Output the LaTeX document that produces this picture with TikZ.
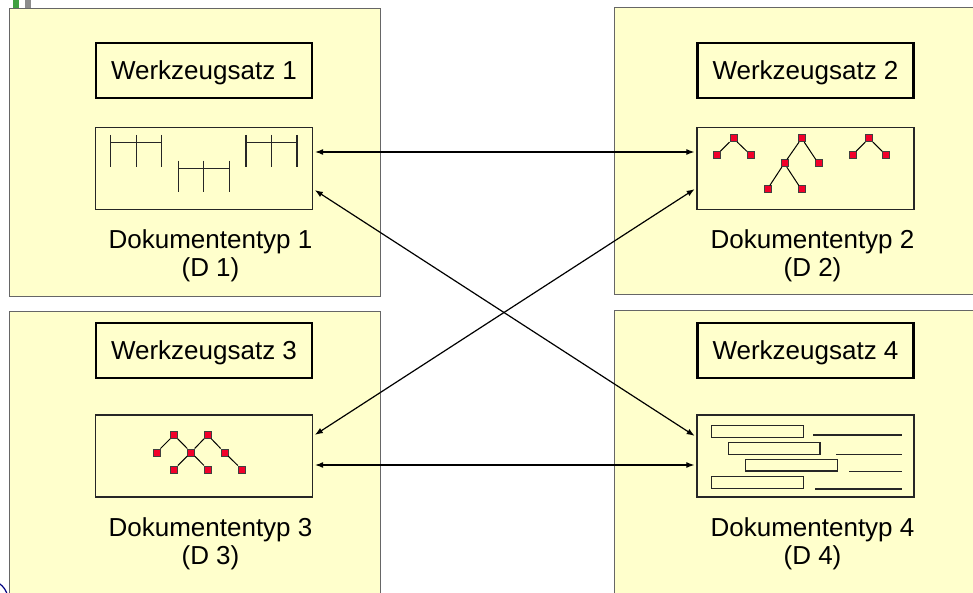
\documentclass[tikz,border=0pt]{standalone}
\usepackage{fontspec}
\setmainfont{Liberation Sans}
\usepackage{tikz}
\usetikzlibrary{positioning,arrows.meta}
\definecolor{paneyellow}{HTML}{FFFFCC}
\definecolor{sqred}{HTML}{F2002A}
\begin{document}
\begin{tikzpicture}
	[x=1pt,y=-1pt,font=\fontsize{26}{28}\selectfont,
	panel/.style={rectangle,draw=black!60,fill=paneyellow,line width=1pt,inner sep=0pt},
	tool/.style={rectangle,draw,line width=2.6pt,fill=paneyellow,minimum width=216pt,minimum height=55pt,inner sep=0pt,text height=18pt,text depth=0pt},
	doc/.style={rectangle,draw=black!85,line width=1.3pt,fill=paneyellow,minimum width=217pt,minimum height=82pt,inner sep=0pt},
	typ/.style={align=center,inner sep=0pt},
	sq/.style={rectangle,draw=black!75,fill=sqred,minimum size=7pt,inner sep=0pt,line width=0.6pt},
	link/.style={{Latex[length=8pt,width=6pt]}-{Latex[length=8pt,width=6pt]},line width=1.2pt,shorten <=2pt,shorten >=2pt}]
	\path[use as bounding box] (0,0) rectangle (973,593);
	\clip (0,0) rectangle (973,593);
	% bits at the edge
	\fill[green!50!black!75] (13.3,0) rectangle (19,8);
	\fill[black!45] (25,0) rectangle (31,8);
	\draw[blue!50!black,line width=1.2pt] (-12,600) circle (20);
	% panels
	\node[panel,minimum width=371pt,minimum height=287pt] (panel1) at (194.5,152.5) {};
	\node[panel,minimum width=376pt,minimum height=286pt] (panel2) at (802,151) {};
	\node[panel,minimum width=371pt,minimum height=299pt] (panel3) at (194.5,460.5) {};
	\node[panel,minimum width=376pt,minimum height=300pt] (panel4) at (802,460) {};
	% tool sets and document types
	\node[tool] (tool1) at (204,70.5) {Werkzeugsatz 1};
	\node[tool] (tool2) at (805.5,70.5) {Werkzeugsatz 2};
	\node[tool] (tool3) at (204,350.5) {Werkzeugsatz 3};
	\node[tool] (tool4) at (805.5,350.5) {Werkzeugsatz 4};
	\node[doc] (doc1) at (204,168.5) {};
	\node[doc] (doc2) at (805.5,168.5) {};
	\node[doc] (doc3) at (204,456) {};
	\node[doc] (doc4) at (805.5,456) {};
	\node[typ] (typ1) [below=19.5pt of doc1, xshift=6.5pt] {Dokumententyp 1\\(D 1)};
	\node[typ] (typ2) [below=19.5pt of doc2, xshift=7pt] {Dokumententyp 2\\(D 2)};
	\node[typ] (typ3) [below=19.5pt of doc3, xshift=6.5pt] {Dokumententyp 3\\(D 3)};
	\node[typ] (typ4) [below=19.5pt of doc4, xshift=7pt] {Dokumententyp 4\\(D 4)};
	% D 1: combs
	\foreach \cx/\cy in {110.7/135, 178.3/160.7, 246/135} {
		\draw[black!85,line width=1.2pt] (\cx,\cy+7.7) -- ++(51,0);
		\foreach \k in {0,25.5,51}
			\draw[black!85,line width=1.2pt] (\cx+\k,\cy) -- ++(0,31.7);
	}
	% D 2: trees
	\node[sq] (a0) at (733.3,138.3) {};
	\node[sq] (a1) at (716.7,155) {};
	\node[sq] (a2) at (750.7,155) {};
	\node[sq] (b0) at (801.7,138.3) {};
	\node[sq] (b1) at (784.3,163.3) {};
	\node[sq] (b2) at (818.3,163.3) {};
	\node[sq] (b3) at (767.3,189.3) {};
	\node[sq] (b4) at (801.3,189.3) {};
	\node[sq] (c0) at (869,138.3) {};
	\node[sq] (c1) at (852.3,155) {};
	\node[sq] (c2) at (886,155) {};
	\draw[line width=1pt] (a0) -- (a1) (a0) -- (a2);
	\draw[line width=1pt] (b0) -- (b1) (b0) -- (b2) (b1) -- (b3) (b1) -- (b4);
	\draw[line width=1pt] (c0) -- (c1) (c0) -- (c2);
	% D 3: tree
	\node[sq] (t1) at (174,435) {};
	\node[sq] (t2) at (207.7,435) {};
	\node[sq] (t3) at (156.7,452.3) {};
	\node[sq] (t4) at (191,452.3) {};
	\node[sq] (t5) at (224.3,452.3) {};
	\node[sq] (t6) at (174,469.3) {};
	\node[sq] (t7) at (207.7,469.3) {};
	\node[sq] (t8) at (241.7,469.3) {};
	\draw[line width=1pt] (t1) -- (t3) (t1) -- (t4) (t2) -- (t4) (t2) -- (t5)
		(t4) -- (t6) (t4) -- (t7) (t5) -- (t8);
	% D 4: bars and lines
	\foreach \xa/\ya/\xl/\yl in {711.7/425.7/813.3/435, 728.3/442.7/836/454.3,
		745.7/459.3/849.3/471.7, 711.7/476.7/815/489} {
		\draw[black!85,line width=1.3pt] (\xa,\ya) rectangle ++(91.6,11.6);
		\draw[black!85,line width=1.3pt] (\xl,\yl) -- (902.3,\yl);
	}
	% links
	\draw[link] ([yshift=16.5pt]doc1.east) -- ([yshift=16.5pt]doc2.west);
	\draw[link] ([yshift=-20.5pt]doc1.east) -- ([yshift=19pt]doc4.west);
	\draw[link] ([yshift=-19.5pt]doc2.west) -- ([yshift=20pt]doc3.east);
	\draw[link] ([yshift=-9pt]doc3.east) -- ([yshift=-9pt]doc4.west);
\end{tikzpicture}
\end{document}
